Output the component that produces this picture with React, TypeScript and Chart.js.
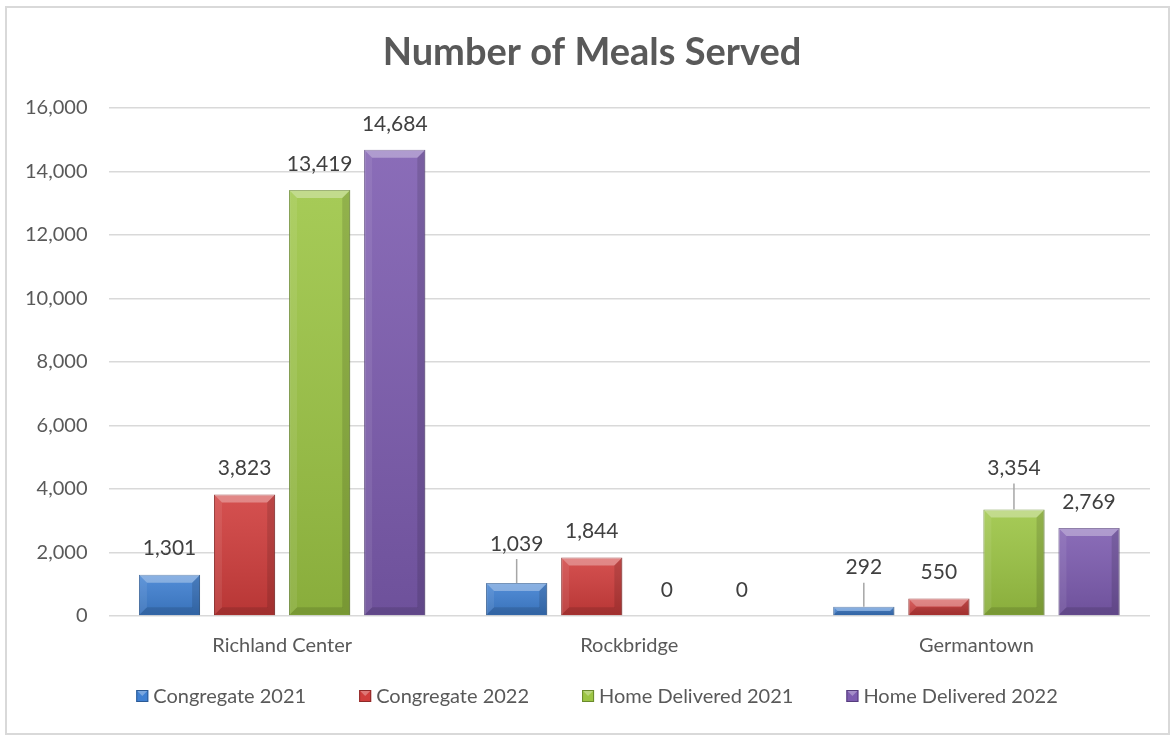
import React, { useEffect, useRef } from 'react';
import { Chart, registerables } from 'chart.js';

Chart.register(...registerables);

const chartTitle = 'Number of Meals Served';
const categories = ['Richland Center', 'Rockbridge', 'Germantown'];
const seriesNames = ['Congregate 2021', 'Congregate 2022', 'Home Delivered 2021', 'Home Delivered 2022'];
const congregate2021 = [1301, 1039, 292];
const congregate2022 = [3823, 1844, 550];
const homeDelivered2021 = [13419, 0, 3354];
const homeDelivered2022 = [14684, 0, 2769];
const yMin = 0;
const yMax = 16000;
const yStep = 2000;

const fills = ['#3F80D2', '#D03D3C', '#9CC544', '#7D5CB0'];
const borders = ['#2C5A94', '#8E2A29', '#6A8A2C', '#553D7C'];
const textColor = '#595959';
const FONT = 'Lato';

// labels lifted above the bar with a leader line: [dataset, index, extra lift px]
const leaderLabels: [number, number, number][] = [
  [0, 1, 13],
  [0, 2, 13],
  [2, 2, 15],
];

const fmt = (v: number) => v.toLocaleString('en-US');

const bevelPlugin = {
  id: 'bevel',
  afterDatasetsDraw(chart: any) {
    const ctx = chart.ctx;
    chart.data.datasets.forEach((_ds: any, i: number) => {
      const meta = chart.getDatasetMeta(i);
      meta.data.forEach((el: any) => {
        const l = el.x - el.width / 2;
        const r = el.x + el.width / 2;
        const t = Math.min(el.y, el.base);
        const bt = Math.max(el.y, el.base);
        const h = bt - t;
        if (h < 1) return;
        const b = Math.min(8, h / 2, el.width / 2);
        ctx.save();
        const g = ctx.createLinearGradient(0, t, 0, bt);
        g.addColorStop(0, 'rgba(255,255,255,0.10)');
        g.addColorStop(1, 'rgba(0,0,0,0.12)');
        ctx.fillStyle = g;
        ctx.fillRect(l + 0.5, t + 0.5, r - l - 1, h - 1);
        const poly = (pts: number[][], color: string) => {
          ctx.beginPath();
          ctx.moveTo(pts[0][0], pts[0][1]);
          for (let k = 1; k < pts.length; k++) ctx.lineTo(pts[k][0], pts[k][1]);
          ctx.closePath();
          ctx.fillStyle = color;
          ctx.fill();
        };
        poly([[l, t], [r, t], [r - b, t + b], [l + b, t + b]], 'rgba(255,255,255,0.32)');
        poly([[l, bt], [r, bt], [r - b, bt - b], [l + b, bt - b]], 'rgba(0,0,0,0.12)');
        poly([[l, t], [l + b, t + b], [l + b, bt - b], [l, bt]], 'rgba(255,255,255,0.08)');
        poly([[r, t], [r - b, t + b], [r - b, bt - b], [r, bt]], 'rgba(0,0,0,0.12)');
        ctx.restore();
      });
    });
  },
};

const labelPlugin = {
  id: 'valueLabels',
  afterDatasetsDraw(chart: any) {
    const ctx = chart.ctx;
    ctx.save();
    ctx.font = `21px ${FONT}`;
    ctx.fillStyle = '#404040';
    ctx.textAlign = 'center';
    ctx.textBaseline = 'middle';
    chart.data.datasets.forEach((ds: any, i: number) => {
      const meta = chart.getDatasetMeta(i);
      meta.data.forEach((el: any, j: number) => {
        const v = ds.data[j];
        const lead = leaderLabels.find((e) => e[0] === i && e[1] === j);
        const lift = lead ? lead[2] : 0;
        const ly = el.y - 26 - lift;
        ctx.fillText(fmt(v), el.x, ly);
        if (lift > 0) {
          ctx.beginPath();
          ctx.strokeStyle = '#a6a6a6';
          ctx.lineWidth = 1.5;
          ctx.moveTo(el.x, ly + 15);
          ctx.lineTo(el.x, el.y);
          ctx.stroke();
        }
      });
    });
    ctx.restore();
  },
};

const titleLegendPlugin = {
  id: 'titleLegend',
  afterDraw(chart: any) {
    const ctx = chart.ctx;
    ctx.save();
    // title
    ctx.font = `bold 38px ${FONT}`;
    ctx.fillStyle = textColor;
    ctx.textAlign = 'center';
    ctx.textBaseline = 'middle';
    ctx.fillText(chartTitle, chart.width / 2 + 4, 53);
    // legend
    ctx.font = `20px ${FONT}`;
    const box = 12;
    const gapBox = 5;
    const gapItem = 53;
    const widths = seriesNames.map((n) => ctx.measureText(n).width);
    const total = widths.reduce((a, w) => a + box + gapBox + w, 0) + gapItem * (seriesNames.length - 1);
    let x = chart.width / 2 + 9 - total / 2;
    const cy = chart.height - 40;
    ctx.textAlign = 'left';
    seriesNames.forEach((n, i) => {
      const bx = x;
      const by = cy - box / 2;
      ctx.fillStyle = fills[i];
      ctx.fillRect(bx, by, box, box);
      ctx.beginPath();
      ctx.moveTo(bx, by);
      ctx.lineTo(bx + box, by);
      ctx.lineTo(bx + box / 2, by + box / 2);
      ctx.closePath();
      ctx.fillStyle = 'rgba(255,255,255,0.3)';
      ctx.fill();
      ctx.strokeStyle = borders[i];
      ctx.lineWidth = 1;
      ctx.strokeRect(bx + 0.5, by + 0.5, box - 1, box - 1);
      ctx.fillStyle = textColor;
      ctx.fillText(n, bx + box + gapBox, cy + 1);
      x += box + gapBox + widths[i] + gapItem;
    });
    ctx.restore();
  },
};

export default function App() {
  const ref = useRef<HTMLCanvasElement>(null);
  useEffect(() => {
    if (!ref.current) return;
    const series = [congregate2021, congregate2022, homeDelivered2021, homeDelivered2022];
    const chart = new Chart(ref.current, {
      type: 'bar',
      data: {
        labels: categories,
        datasets: series.map((d, i) => ({
          label: seriesNames[i],
          data: d,
          backgroundColor: fills[i],
          borderColor: borders[i],
          borderWidth: 1,
          categoryPercentage: 0.865,
          barPercentage: 0.815,
        })),
      },
      options: {
        animation: false,
        responsive: true,
        maintainAspectRatio: false,
        layout: { padding: { left: 4, right: 26, top: 108, bottom: 60 } },
        plugins: {
          tooltip: { enabled: false },
          title: { display: false },
          legend: { display: false },
        },
        scales: {
          x: {
            grid: { display: false, drawTicks: false },
            border: { display: false },
            ticks: { color: textColor, font: { family: FONT, size: 20 }, padding: 18 },
          },
          y: {
            min: yMin,
            max: yMax,
            ticks: {
              stepSize: yStep,
              color: textColor,
              font: { family: FONT, size: 20 },
              padding: 21,
              callback: (v: any) => fmt(Number(v)),
            },
            grid: { color: '#d9d9d9', lineWidth: 1.5, drawTicks: false },
            border: { display: false },
          },
        },
      },
      plugins: [bevelPlugin, labelPlugin, titleLegendPlugin],
    });
    return () => chart.destroy();
  }, []);
  return (
    <div style={{ position: 'absolute', left: 0, top: 0, width: 1176, height: 736, background: '#fff' }}>
      <div
        style={{
          position: 'absolute',
          left: 5,
          top: 6,
          width: 1165,
          height: 729,
          border: '2px solid #d9d9d9',
          boxSizing: 'border-box',
        }}
      />
      <div style={{ position: 'absolute', left: 0, top: 0, width: 1176, height: 736 }}>
        <canvas ref={ref} />
      </div>
    </div>
  );
}
